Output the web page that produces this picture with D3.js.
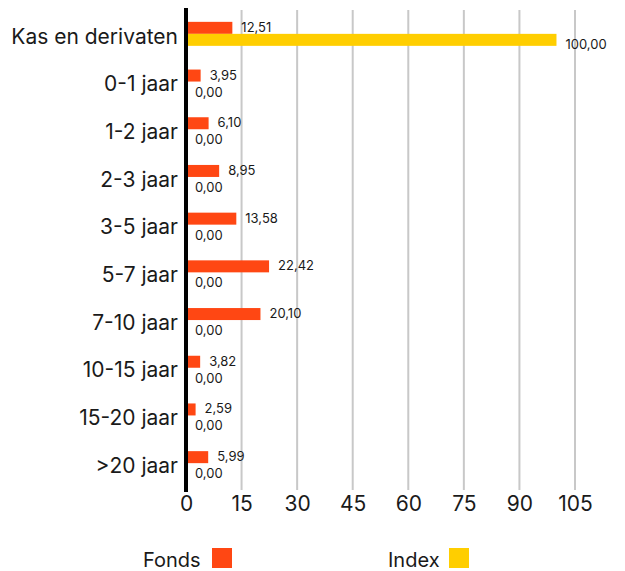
<!DOCTYPE html>
<html>
<head>
<meta charset="utf-8">
<script src="https://cdn.jsdelivr.net/npm/d3@7"></script>
<style>
  body { margin: 0; background: #fff; }
  text { font-family: Inter, "Open Sans", sans-serif; fill: #1a1a1a; }
</style>
</head>
<body>
<div id="chart"></div>
<script>
// Data
const categories = ["Kas en derivaten", "0-1 jaar", "1-2 jaar", "2-3 jaar", "3-5 jaar",
  "5-7 jaar", "7-10 jaar", "10-15 jaar", "15-20 jaar", ">20 jaar"];
const fonds = [12.51, 3.95, 6.10, 8.95, 13.58, 22.42, 20.10, 3.82, 2.59, 5.99];
const index = [100.00, 0, 0, 0, 0, 0, 0, 0, 0, 0];
const xTicks = [0, 15, 30, 45, 60, 75, 90, 105];
const seriesNames = ["Fonds", "Index"];
const colors = ["#ff4713", "#ffce00"];

const width = 625, height = 571;
const fmt = v => v.toFixed(2).replace(".", ",");

const svg = d3.select("#chart")
  .append("svg")
    .attr("width", width)
    .attr("height", height);

// Scales
const x = d3.scaleLinear()
  .domain([0, 105])
  .range([186, 575]);

const y = d3.scaleBand()
  .domain(categories)
  .range([10, 487]);

const barH = 12;

// Grid lines
svg.append("g")
  .selectAll("line")
  .data(xTicks.slice(1))
  .join("line")
    .attr("x1", d => x(d))
    .attr("x2", d => x(d))
    .attr("y1", 10)
    .attr("y2", 490)
    .attr("stroke", "#c8c8c8")
    .attr("stroke-width", 2);

// X axis tick labels
const xAxis = svg.append("g")
  .attr("transform", "translate(0,490)")
  .call(d3.axisBottom(x).tickValues(xTicks).tickSize(0).tickPadding(6));
xAxis.select(".domain").remove();
xAxis.selectAll("text")
  .style("font-family", "Inter, 'Open Sans', sans-serif")
  .style("font-size", "21px")
  .attr("fill", "#1a1a1a");

// Category labels
const yAxis = svg.append("g")
  .attr("transform", "translate(186,3)")
  .call(d3.axisLeft(y).tickSize(0).tickPadding(8));
yAxis.select(".domain").remove();
yAxis.selectAll("text")
  .style("font-family", "Inter, 'Open Sans', sans-serif")
  .style("font-size", "21px")
  .attr("fill", "#1a1a1a");

// Bars
const rows = categories.map((c, i) => ({ cat: c, f: fonds[i], ix: index[i] }));
const mid = d => y(d.cat) + y.bandwidth() / 2;

svg.append("g")
  .selectAll("rect")
  .data(rows)
  .join("rect")
    .attr("x", x(0))
    .attr("y", d => mid(d) - barH)
    .attr("width", d => x(d.f) - x(0))
    .attr("height", barH)
    .attr("fill", colors[0]);

svg.append("g")
  .selectAll("rect")
  .data(rows)
  .join("rect")
    .attr("x", x(0))
    .attr("y", d => mid(d))
    .attr("width", d => x(d.ix) - x(0))
    .attr("height", barH)
    .attr("fill", colors[1]);

// Value labels
svg.append("g")
  .selectAll("text")
  .data(rows)
  .join("text")
    .attr("x", d => x(d.f) + 9)
    .attr("y", d => mid(d) - 2)
    .style("font-size", "13px")
    .text(d => fmt(d.f));

svg.append("g")
  .selectAll("text")
  .data(rows)
  .join("text")
    .attr("x", d => x(d.ix) + 9)
    .attr("y", d => mid(d) + 15)
    .style("font-size", "13px")
    .text(d => fmt(d.ix));

// Vertical axis line
svg.append("line")
  .attr("x1", x(0))
  .attr("x2", x(0))
  .attr("y1", 8)
  .attr("y2", 492)
  .attr("stroke", "#000")
  .attr("stroke-width", 4);

// Legend
const legendX = [143, 388];
const legend = svg.append("g")
  .selectAll("g")
  .data(seriesNames)
  .join("g");

legend.append("text")
  .attr("x", (d, i) => legendX[i])
  .attr("y", 567)
  .style("font-size", "20px")
  .text(d => d);

legend.append("rect")
  .attr("x", (d, i) => legendX[i] + (i === 0 ? 69 : 61))
  .attr("y", 548)
  .attr("width", 20)
  .attr("height", 20)
  .attr("fill", (d, i) => colors[i]);
</script>
</body>
</html>
